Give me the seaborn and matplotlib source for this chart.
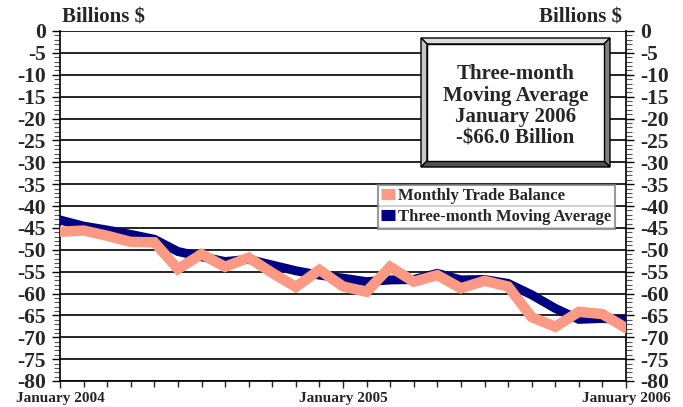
import matplotlib
matplotlib.use("Agg")
import matplotlib.pyplot as plt
import seaborn as sns
import pandas as pd
import numpy as np
from matplotlib.patches import Polygon
from matplotlib.ticker import MultipleLocator, FixedLocator
from matplotlib.lines import Line2D

months = list(range(25))
monthly_balance = [-45.9, -45.6, -46.8, -48.2, -48.3, -54.4, -51.0, -53.9, -51.8, -55.3,
                   -58.5, -54.6, -58.4, -59.6, -53.9, -57.3, -55.8, -58.8, -57.1, -58.4,
                   -65.4, -67.6, -64.2, -64.7, -67.9]
moving_avg = [-43.2, -44.6, -45.5, -46.5, -47.6, -50.4, -51.6, -52.7, -52.2, -53.5,
              -54.8, -55.8, -56.5, -57.3, -56.9, -56.8, -55.4, -56.9, -56.8, -57.7,
              -60.3, -63.4, -65.9, -65.7, -66.0]
x_tick_labels = ["January 2004", "January 2005", "January 2006"]
series_names = ["Monthly Trade Balance", "Three-month Moving Average"]

df = pd.DataFrame({
    "month": months * 2,
    "value": moving_avg + monthly_balance,
    "series": [series_names[1]] * 25 + [series_names[0]] * 25,
})

sns.set_style("white")
serif = ["Liberation Serif", "DejaVu Serif"]
plt.rcParams["font.family"] = serif
plt.rcParams["font.weight"] = "bold"

W, H = 683, 407
fig = plt.figure(figsize=(W / 100, H / 100), dpi=100)
ax = fig.add_axes([60 / W, 1 - 381 / H, 566 / W, 350 / H])

palette = {series_names[0]: "#fa9a84", series_names[1]: "#000080"}
sns.lineplot(data=df, x="month", y="value", hue="series", palette=palette,
             hue_order=[series_names[1], series_names[0]], ax=ax, legend=False,
             linewidth=7.5, solid_joinstyle="miter")
lines = ax.get_lines()
lines[0].set_linewidth(6.5)
lines[0].set_zorder(3)
lines[1].set_linewidth(7.5)
lines[1].set_zorder(4)

ax.set_xlim(0, 24)
ax.set_ylim(-80, 0)
ax.set_xlabel("")
ax.set_ylabel("")

ax.yaxis.set_major_locator(MultipleLocator(5))
ax.yaxis.set_minor_locator(MultipleLocator(1))
ax.grid(axis="y", which="major", color="black", linewidth=1.2)
ax.grid(axis="x", visible=False)
ax.set_axisbelow(True)

for s in ["left", "bottom", "right"]:
    ax.spines[s].set_visible(True)
    ax.spines[s].set_color("black")
    ax.spines[s].set_linewidth(1.2)
ax.spines["top"].set_visible(False)

ylab = [("%d" % v) if v == 0 else ("-%d" % abs(v)) for v in range(0, -85, -5)]
ax.set_yticks(list(range(0, -85, -5)))
ax.set_yticklabels(ylab, fontsize=15.5, fontweight="bold")
ax.tick_params(axis="y", which="major", direction="out", length=6, width=1, color="black",
               left=True, right=True, labelleft=True, labelright=True, pad=4)
ax.tick_params(axis="y", which="minor", direction="out", length=4, width=0.8, color="#555555",
               left=True, right=True)

ax.set_xticks([0, 12, 24])
ax.set_xticklabels(x_tick_labels, fontsize=11, fontweight="bold")
ax.xaxis.set_minor_locator(FixedLocator(months))
ax.tick_params(axis="x", which="major", direction="out", length=5, width=1, bottom=True, pad=3)
ax.tick_params(axis="x", which="minor", direction="out", length=4, width=1, bottom=True)

fig.text(62 / W, 1 - 17 / H, "Billions $", fontsize=15, fontweight="bold", va="center", ha="left")
fig.text(622 / W, 1 - 17 / H, "Billions $", fontsize=15, fontweight="bold", va="center", ha="right")

handles = [Line2D([0], [0], color=palette[series_names[0]], linewidth=8, solid_capstyle="butt"),
           Line2D([0], [0], color=palette[series_names[1]], linewidth=8, solid_capstyle="butt")]
leg = ax.legend(handles, series_names, loc="upper left",
                bbox_to_anchor=((378 - 60) / 566, (381 - 185) / 350),
                prop={"family": serif, "weight": "bold", "size": 12},
                frameon=True, fancybox=False, handlelength=0.8, handletextpad=0.2,
                borderpad=0.2, labelspacing=0.3, borderaxespad=0)
leg.get_frame().set_edgecolor("#808080")
leg.get_frame().set_linewidth(1.5)
leg.set_zorder(10)

def fx(px):
    return px / W
def fy(py):
    return 1 - py / H

x0, x1, y0, y1 = 421, 610, 38, 167
b = 6
tr = fig.transFigure
outer = [(x0, y0), (x1, y0), (x1, y1), (x0, y1)]
inner = [(x0 + b, y0 + b), (x1 - b, y0 + b), (x1 - b, y1 - b), (x0 + b, y1 - b)]
def poly(pts, fc):
    return Polygon([(fx(a), fy(c)) for a, c in pts], closed=True, transform=tr,
                   facecolor=fc, edgecolor="black", linewidth=1, zorder=20)
fig.patches.append(poly([outer[0], outer[1], inner[1], inner[0]], "#dcdcdc"))
fig.patches.append(poly([outer[0], inner[0], inner[3], outer[3]], "#c8c8c8"))
fig.patches.append(poly([outer[1], outer[2], inner[2], inner[1]], "#808080"))
fig.patches.append(poly([outer[3], inner[3], inner[2], outer[2]], "#505050"))
fig.patches.append(poly(inner, "white"))
fig.text(fx((x0 + x1) / 2), fy((y0 + y1) / 2 + 4),
         "Three-month\nMoving Average\nJanuary 2006\n-$66.0 Billion",
         fontsize=15, fontweight="bold", ha="center", va="center",
         linespacing=1.1, zorder=25)

fig.savefig("out.png", dpi=100)
